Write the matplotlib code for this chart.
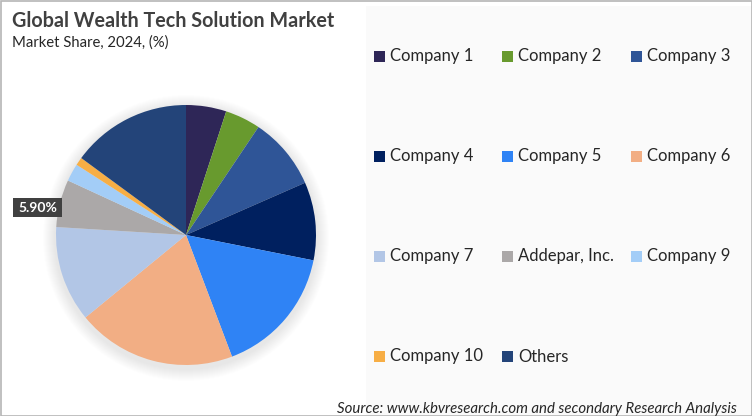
import matplotlib
matplotlib.use('Agg')
import matplotlib.pyplot as plt
from matplotlib.patches import Circle, Rectangle

# Market share
labels = ['Company 1', 'Company 2', 'Company 3', 'Company 4', 'Company 5', 'Company 6',
          'Company 7', 'Addepar, Inc.', 'Company 9', 'Company 10', 'Others']
shares = [5.0, 4.4, 9.0, 9.7, 16.1, 19.8, 11.9, 5.9, 2.2, 1.0, 14.9]
colors = ['#2e2657', '#689a2e', '#2f5597', '#00205f', '#2f83f5', '#f2ae84',
          '#b2c6e6', '#aba8a8', '#a3cdf7', '#f7ae45', '#234479']
highlight = 'Addepar, Inc.'

plt.rcParams['font.family'] = ['Lato', 'DejaVu Sans']

W, H = 752, 416
fig = plt.figure(figsize=(W / 100, H / 100), dpi=100, facecolor='white')

# background layer in pixel coordinates
bg = fig.add_axes([0, 0, 1, 1])
bg.set_xlim(0, W)
bg.set_ylim(H, 0)
bg.axis('off')
bg.add_patch(Rectangle((366, 6), 386, 410, fc='#fafafa', ec='none'))
bg.add_patch(Rectangle((0.5, 0.5), W - 1, H - 1, fc='none', ec='#b5b5b5', lw=1.2, zorder=5))

# soft shadow round the pie
for i in range(12):
    bg.add_patch(Circle((186, 238), 143 - i, fc='#808080', ec='none', alpha=0.012, zorder=1))

# pie
cx, cy, r = 186, 235, 130
ax = fig.add_axes([(cx - r) / W, 1 - (cy + r) / H, 2 * r / W, 2 * r / H])
ax.pie(shares, colors=colors, startangle=90, counterclock=False, radius=1,
       wedgeprops={'linewidth': 0})
ax.set_xlim(-1, 1)
ax.set_ylim(-1, 1)
ax.patch.set_alpha(0)

# overlay for text
top = fig.add_axes([0, 0, 1, 1])
top.set_xlim(0, W)
top.set_ylim(H, 0)
top.axis('off')

top.text(12, 21, 'Global Wealth Tech Solution Market', fontsize=14.2, fontweight='bold',
         color='#404040', va='center', ha='left')
top.text(12, 43, 'Market Share, 2024, (%)', fontsize=10.7, color='#262626', va='center', ha='left')

# data label on the highlighted slice
top.add_patch(Rectangle((13, 198), 49, 19, fc='#404040', ec='none'))
top.text(37.5, 207.5, f'{shares[labels.index(highlight)]:.2f}%', fontsize=10, fontweight='bold',
         color='white', va='center', ha='center')

# legend: 3 columns, 4 rows
col_x = [374, 502, 631]
row_y = [56, 156, 256, 356]
for i, (name, col) in enumerate(zip(labels, colors)):
    x, y = col_x[i % 3], row_y[i // 3]
    top.add_patch(Rectangle((x, y - 5), 10.5, 10.5, fc=col, ec='none'))
    top.text(x + 16, y + 0.5, name, fontsize=12, color='#262626', va='center', ha='left')

top.text(737, 409, 'Source: www.kbvresearch.com and secondary Research Analysis', fontsize=10.85,
         style='italic', color='#262626', va='center', ha='right')

fig.savefig('out.png', dpi=100)
